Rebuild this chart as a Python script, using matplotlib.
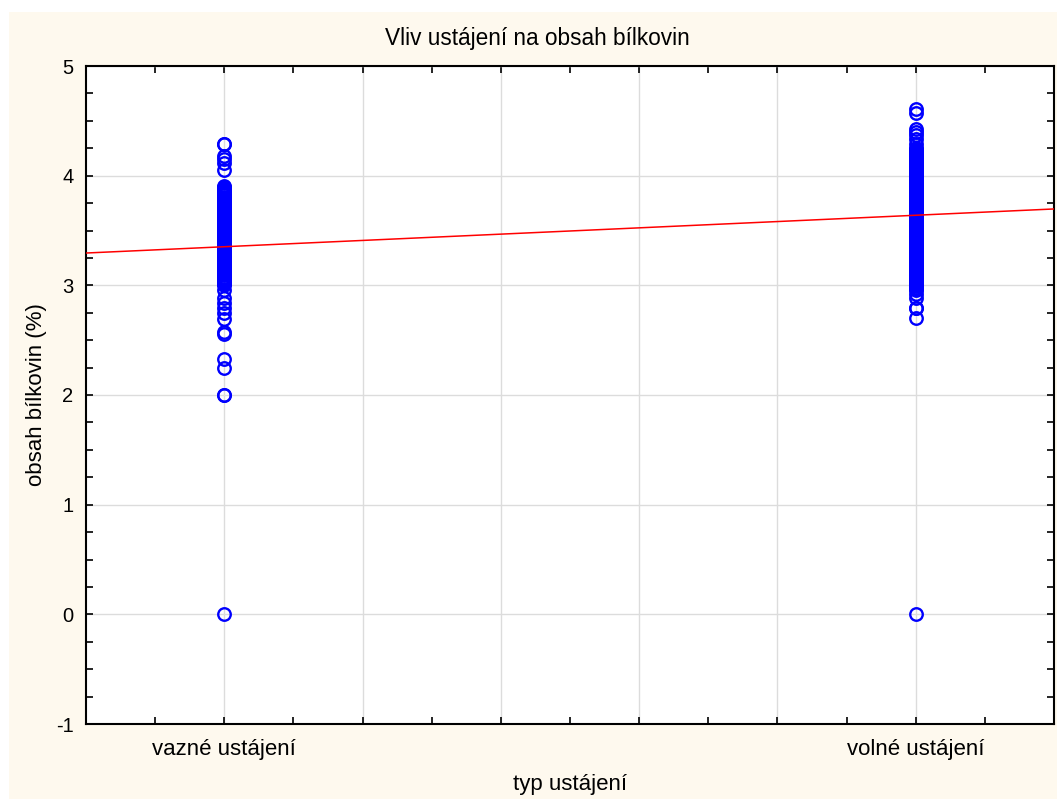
import numpy as np
import matplotlib.pyplot as plt
from matplotlib.patches import Rectangle

plt.rcParams['font.family'] = ['Liberation Sans', 'DejaVu Sans']

# --- data ---
categories = ['vazné ustájení', 'volné ustájení']
cat_pos = [1, 6]

vazne_sparse = [4.29, 4.29, 4.18, 4.15, 4.12, 4.05,
                2.96, 2.88, 2.84, 2.79, 2.75, 2.69, 2.57, 2.56, 2.33, 2.25, 2.0, 2.0, 0.0]
vazne_dense = [3.00, 3.01, 3.02, 3.03, 3.04, 3.05, 3.06, 3.07, 3.08, 3.09,
               3.10, 3.11, 3.12, 3.13, 3.14, 3.15, 3.16, 3.17, 3.18, 3.19,
               3.20, 3.21, 3.22, 3.23, 3.24, 3.25, 3.26, 3.27, 3.28, 3.29,
               3.30, 3.31, 3.32, 3.33, 3.34, 3.35, 3.36, 3.37, 3.38, 3.39,
               3.40, 3.41, 3.42, 3.43, 3.44, 3.45, 3.46, 3.47, 3.48, 3.49,
               3.50, 3.51, 3.52, 3.53, 3.54, 3.55, 3.56, 3.57, 3.58, 3.59,
               3.60, 3.61, 3.62, 3.63, 3.64, 3.65, 3.66, 3.67, 3.68, 3.69,
               3.70, 3.71, 3.72, 3.73, 3.74, 3.75, 3.76, 3.77, 3.78, 3.79,
               3.80, 3.81, 3.82, 3.83, 3.84, 3.85, 3.86, 3.87, 3.88, 3.89,
               3.90, 3.91]

volne_sparse = [4.61, 4.57, 4.43, 4.40, 4.37, 4.33, 4.29,
                2.92, 2.88, 2.79, 2.79, 2.70, 0.0]
volne_dense = [2.96, 2.97, 2.98, 2.99,
               3.00, 3.01, 3.02, 3.03, 3.04, 3.05, 3.06, 3.07, 3.08, 3.09,
               3.10, 3.11, 3.12, 3.13, 3.14, 3.15, 3.16, 3.17, 3.18, 3.19,
               3.20, 3.21, 3.22, 3.23, 3.24, 3.25, 3.26, 3.27, 3.28, 3.29,
               3.30, 3.31, 3.32, 3.33, 3.34, 3.35, 3.36, 3.37, 3.38, 3.39,
               3.40, 3.41, 3.42, 3.43, 3.44, 3.45, 3.46, 3.47, 3.48, 3.49,
               3.50, 3.51, 3.52, 3.53, 3.54, 3.55, 3.56, 3.57, 3.58, 3.59,
               3.60, 3.61, 3.62, 3.63, 3.64, 3.65, 3.66, 3.67, 3.68, 3.69,
               3.70, 3.71, 3.72, 3.73, 3.74, 3.75, 3.76, 3.77, 3.78, 3.79,
               3.80, 3.81, 3.82, 3.83, 3.84, 3.85, 3.86, 3.87, 3.88, 3.89,
               3.90, 3.91, 3.92, 3.93, 3.94, 3.95, 3.96, 3.97, 3.98, 3.99,
               4.00, 4.01, 4.02, 4.03, 4.04, 4.05, 4.06, 4.07, 4.08, 4.09,
               4.10, 4.11, 4.12, 4.13, 4.14, 4.15, 4.16, 4.17, 4.18, 4.19,
               4.20, 4.21, 4.22, 4.23, 4.24, 4.25]

# fitted line value at each group
fit_at_groups = [3.352, 3.639]

groups = [vazne_dense + vazne_sparse, volne_dense + volne_sparse]

fig = plt.figure(figsize=(10.57, 7.99), dpi=100, facecolor='white')
fig.patches.append(Rectangle((9 / 1057, 0), 1, 1 - 12 / 799, transform=fig.transFigure,
                             facecolor='#fef9ee', edgecolor='none', zorder=-10))

ax = fig.add_axes([86 / 1057, 75 / 799, 968 / 1057, 658 / 799])
ax.set_facecolor('white')

for pos, vals in zip(cat_pos, groups):
    ax.plot([pos] * len(vals), vals, linestyle='none', marker='o', markersize=9,
            markerfacecolor='none', markeredgecolor='#0000ff', markeredgewidth=1.7,
            zorder=3, clip_on=False)

ax.axline((cat_pos[0], fit_at_groups[0]), (cat_pos[1], fit_at_groups[1]),
          color='#ff0000', linewidth=1.1, zorder=4)

ax.set_xlim(0, 7)
ax.set_ylim(-1, 5)
ax.set_xticks([1, 2, 3, 4, 5, 6])
ax.set_xticklabels([categories[0], '', '', '', '', categories[1]], fontsize=16)
ax.set_xticks(np.arange(0.5, 7, 1.0), minor=True)
ax.set_yticks([-1, 0, 1, 2, 3, 4, 5])
ax.set_yticklabels(['-1', '0', '1', '2', '3', '4', '5'], fontsize=14.5)
ax.set_yticks(np.arange(-1, 5.01, 0.25), minor=True)

ax.tick_params(which='both', direction='in', top=True, right=True,
               length=5, width=1.2, color='black')
ax.tick_params(axis='x', which='major', pad=11)
ax.tick_params(axis='y', which='major', pad=9)
ax.grid(True, which='major', color='#dcdcdc', linewidth=1.0, zorder=0)
ax.set_axisbelow(True)
for sp in ax.spines.values():
    sp.set_linewidth(1.5)

fig.text(537 / 1057, 1 - 39 / 799, 'Vliv ustájení na obsah bílkovin', fontsize=16.3,
         ha='center', va='center')
ax.set_xlabel('typ ustájení', fontsize=16, labelpad=10)
ax.set_ylabel('obsah bílkovin (%)', fontsize=16, labelpad=6)

fig.savefig('out.png', dpi=100, facecolor='white')
